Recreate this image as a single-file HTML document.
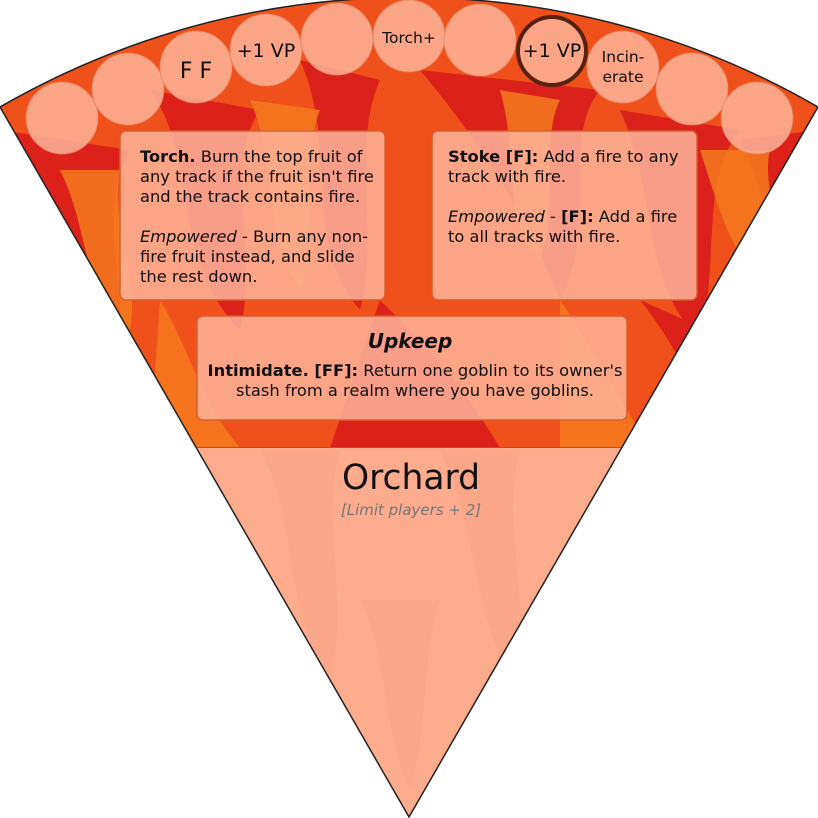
<!DOCTYPE html>
<html><head><meta charset="utf-8"><style>
html,body{margin:0;padding:0;background:#fff;width:818px;height:818px;overflow:hidden}
svg{display:block;font-family:"DejaVu Sans","Liberation Sans",sans-serif}
</style></head><body>
<svg width="818" height="818" viewBox="0 0 818 818">
<defs>
<clipPath id="wedge"><path d="M409,817 L0,107 A818,818 0 0 1 818,107 Z"/></clipPath>
</defs>
<g clip-path="url(#wedge)">
  <rect x="0" y="0" width="818" height="448" fill="#f0501a"/>
  <g fill="#d91c1c" opacity="0.9">
    <path d="M0,130 C60,200 40,300 110,360 C140,300 90,220 130,150 Z"/>
    <path d="M150,90 C200,160 170,260 240,330 C260,250 220,170 260,110 Z"/>
    <path d="M300,60 C340,150 300,240 360,310 C380,230 350,150 380,80 Z"/>
    <path d="M420,70 C470,130 520,200 560,300 C600,220 560,140 600,90 Z"/>
    <path d="M620,110 C660,200 640,280 700,340 C720,260 700,180 740,130 Z"/>
    <path d="M740,140 C780,220 770,300 818,360 L818,130 Z"/>
    <path d="M20,300 C60,340 80,400 120,448 L0,448 Z"/>
    <path d="M380,300 C420,340 460,380 500,448 L330,448 Z"/>
    <path d="M640,300 C680,350 700,400 720,448 L818,448 L818,380 Z"/>
  </g>
  <g fill="#f57a1e" opacity="0.85">
    <path d="M60,170 C90,230 80,290 130,330 C140,280 110,220 120,170 Z"/>
    <path d="M250,100 C280,170 260,230 300,290 C320,220 300,160 320,110 Z"/>
    <path d="M500,90 C520,160 500,220 540,260 C560,200 540,140 560,100 Z"/>
    <path d="M700,150 C720,210 730,260 780,300 C790,240 760,190 770,150 Z"/>
    <path d="M160,300 C190,350 200,400 240,448 L150,448 Z"/>
    <path d="M560,300 C600,360 620,400 650,448 L560,448 Z"/>
  </g>
  <rect x="0" y="447" width="818" height="371" fill="#fcab8c"/>
  <g fill="#f79d82" opacity="0.35">
    <path d="M260,450 C300,520 280,600 330,680 C350,600 320,520 340,450 Z"/>
    <path d="M440,450 C480,530 470,620 520,690 C530,600 500,520 520,450 Z"/>
    <path d="M360,600 C390,660 380,720 410,790 C430,720 420,660 440,600 Z"/>
  </g>
  <line x1="0" y1="447.5" x2="818" y2="447.5" stroke="#c84a20" stroke-width="1"/>
</g>
<path d="M409,817 L0,107 A818,818 0 0 1 818,107 Z" fill="none" stroke="#222" stroke-width="1.5"/>

<g fill="#fdb39a" fill-opacity="0.85" stroke="#e8805e" stroke-width="0.8">
  <circle cx="62" cy="118" r="36"/>
  <circle cx="128" cy="89" r="36"/>
  <circle cx="196" cy="67" r="36"/>
  <circle cx="266" cy="50" r="36"/>
  <circle cx="337" cy="39" r="36"/>
  <circle cx="409" cy="36" r="36"/>
  <circle cx="480" cy="40" r="36"/>
  <circle cx="552" cy="51" r="34" stroke="#5a2010" stroke-width="4"/>
  <circle cx="623" cy="67" r="36"/>
  <circle cx="692" cy="89" r="36"/>
  <circle cx="757" cy="118" r="36"/>
</g>
<g fill="#111" text-anchor="middle">
  <text x="196" y="78" font-size="22">F F</text>
  <text x="266" y="57" font-size="19">+1 VP</text>
  <text x="409" y="43" font-size="15.5">Torch+</text>
  <text x="552" y="57" font-size="19">+1 VP</text>
  <text x="623" y="62" font-size="15.5">Incin-</text>
  <text x="623" y="82" font-size="15.5">erate</text>
</g>

<g fill="#fdb39a" fill-opacity="0.85" stroke="#d8602e" stroke-width="1.5">
  <rect x="120" y="131" width="265" height="169" rx="6"/>
  <rect x="432" y="131" width="265" height="169" rx="6"/>
  <rect x="197" y="316" width="430" height="104" rx="6"/>
</g>
<g fill="#111" font-size="16.3">
  <text x="140" y="162"><tspan font-weight="bold">Torch.</tspan> Burn the top fruit of<tspan x="140" dy="20">any track if the fruit isn't fire</tspan><tspan x="140" dy="20">and the track contains fire.</tspan><tspan x="140" dy="40"><tspan font-style="italic">Empowered</tspan> - Burn any non-</tspan><tspan x="140" dy="20">fire fruit instead, and slide</tspan><tspan x="140" dy="20">the rest down.</tspan></text>
  <text x="448" y="162"><tspan font-weight="bold">Stoke [F]:</tspan> Add a fire to any<tspan x="448" dy="20">track with fire.</tspan><tspan x="448" dy="40"><tspan font-style="italic">Empowered</tspan> - <tspan font-weight="bold">[F]:</tspan> Add a fire</tspan><tspan x="448" dy="20">to all tracks with fire.</tspan></text>
  <text x="410" y="348" text-anchor="middle" font-size="20" font-weight="bold" font-style="italic">Upkeep</text>
  <text x="415" y="376" text-anchor="middle"><tspan font-weight="bold">Intimidate. [FF]:</tspan> Return one goblin to its owner's</text>
  <text x="415" y="396" text-anchor="middle">stash from a realm where you have goblins.</text>
  <text x="411" y="489" text-anchor="middle" font-size="34.5">Orchard</text>
  <text x="411" y="515" text-anchor="middle" font-size="15" font-style="italic" fill="#777">[Limit players + 2]</text>
</g>
</svg>
</body></html>
